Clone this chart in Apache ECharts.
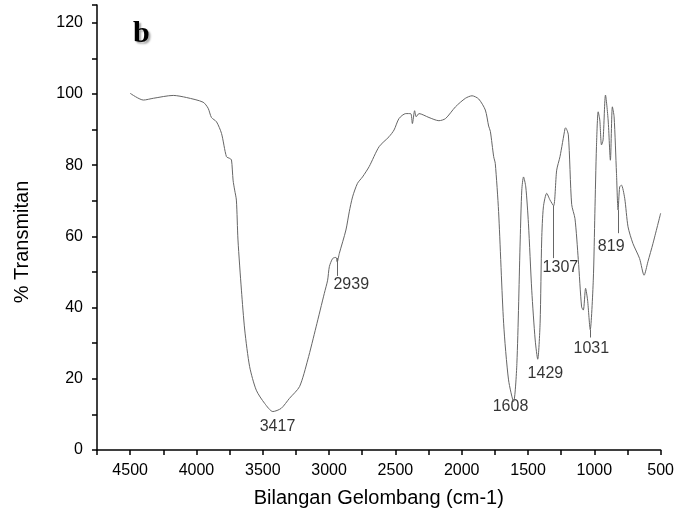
<!DOCTYPE html>
<html>
<head>
<meta charset="utf-8">
<script src="https://cdn.jsdelivr.net/npm/echarts@6/dist/echarts.min.js"></script>
<style>
  html, body { margin: 0; padding: 0; background: #fff; }
  #chart { width: 677px; height: 519px; }
</style>
</head>
<body>
<div id="chart"></div>
<script>
// spectrum, high to low wavenumber
const wavenumbers = [
  4500, 4400, 4325, 4175, 4074, 3950, 3912, 3887, 3849, 3811, 3774, 3749, 3736, 3724, 3712, 3699,
  3687, 3661, 3636, 3599, 3549, 3486, 3424, 3361, 3299, 3223, 3161, 3098, 3036, 3011, 2998, 2973,
  2948, 2939, 2923, 2873, 2848, 2823, 2786, 2748, 2698, 2623, 2548, 2510, 2473, 2422, 2385, 2372,
  2355, 2343, 2322, 2247, 2172, 2122, 2047, 1972, 1922, 1872, 1822, 1797, 1784, 1759, 1747, 1722,
  1684, 1647, 1609, 1584, 1559, 1547, 1534, 1517, 1497, 1472, 1446, 1427, 1409, 1397, 1384, 1359,
  1334, 1307, 1284, 1259, 1221, 1217, 1196, 1171, 1146, 1121, 1096, 1083, 1066, 1051, 1031, 1008,
  996, 984, 971, 959, 946, 934, 916, 896, 879, 864, 851, 833, 821, 809, 796, 771,
  746, 709, 659, 625, 596, 558, 500
];
const transmittance = [
  100.2, 98.3, 98.8, 99.6, 99.0, 97.7, 96.0, 93.4, 92.2, 88.9, 82.4, 81.9, 81.5, 75.8, 73.0, 70.2,
  59.0, 44.9, 33.7, 23.4, 16.8, 13.1, 10.8, 11.7, 14.5, 17.8, 25.3, 34.6, 44.0, 47.7, 51.5, 53.8,
  54.1, 52.8, 55.2, 61.8, 66.9, 71.1, 74.9, 76.7, 79.6, 85.2, 88.0, 89.9, 93.1, 94.5, 94.5, 91.7,
  95.3, 93.6, 94.5, 93.4, 92.5, 93.1, 96.4, 98.8, 99.5, 98.6, 95.5, 91.0, 89.5, 82.4, 80.5, 67.0,
  35.6, 19.7, 13.6, 24.3, 59.0, 73.0, 76.7, 73.9, 63.7, 44.9, 30.9, 25.5, 35.6, 59.0, 68.3, 72.1,
  70.2, 68.6, 78.6, 82.4, 90.3, 90.5, 88.5, 69.0, 65.0, 53.5, 40.2, 39.3, 45.4, 42.1, 33.8, 47.7,
  66.5, 85.2, 95.0, 92.7, 85.7, 87.1, 99.7, 92.7, 81.4, 96.4, 93.6, 77.7, 67.4, 73.9, 74.4, 70.7,
  62.7, 58.0, 53.8, 49.1, 52.9, 58.0, 66.5
];

// peak labels: text, and where the text sits (data units)
const peakNames = ['3417', '2939', '1608', '1429', '1307', '1031', '819'];
const peakLabelX = [3389, 2833, 1632, 1369, 1256, 1023, 873];
const peakLabelY = [6.5, 46.6, 12.1, 21.6, 51.1, 28.6, 57.0];

// leader lines under some peaks: wavenumber, top, bottom
const leaderX = [2939, 1307, 1031, 819];
const leaderTop = [53.9, 68.6, 33.8, 67.4];
const leaderBottom = [48.9, 53.9, 31.6, 60.9];

const xTicks = [500, 1000, 1500, 2000, 2500, 3000, 3500, 4000, 4500];
const yTicks = [0, 20, 40, 60, 80, 100, 120];

const FONT = '"Liberation Sans", Arial, sans-serif';

const chart = echarts.init(document.getElementById('chart'), null, { renderer: 'canvas' });

const spectrum = wavenumbers.map(function(w, i) { return [w, transmittance[i]]; });
const labels = peakNames.map(function(n, i) {
  return { name: n, value: [peakLabelX[i], peakLabelY[i]] };
});
const leaders = leaderX.map(function(x, i) {
  return [{ coord: [x, leaderTop[i]] }, { coord: [x, leaderBottom[i]] }];
});

chart.setOption({
  animation: false,
  backgroundColor: '#fff',
  grid: { left: 97, right: 14, top: 5, bottom: 69 },
  xAxis: {
    type: 'value',
    inverse: true,
    min: 500,
    max: 4750,
    interval: 250,
    name: 'Bilangan Gelombang (cm-1)',
    nameLocation: 'middle',
    nameGap: 38,
    nameTextStyle: { fontFamily: FONT, fontSize: 20, color: '#000' },
    axisLine: { show: true, onZero: false, lineStyle: { color: '#000', width: 1.5 } },
    axisTick: { show: true, inside: false, length: 5, lineStyle: { color: '#000', width: 1.5 } },
    axisLabel: {
      margin: 13,
      fontFamily: FONT,
      fontSize: 16,
      color: '#000',
      formatter: function(v) { return xTicks.indexOf(v) >= 0 ? String(v) : ''; }
    },
    splitLine: { show: false }
  },
  yAxis: {
    type: 'value',
    min: 0,
    max: 125,
    interval: 10,
    axisLine: { show: true, lineStyle: { color: '#000', width: 1.5 } },
    axisTick: { show: true, inside: false, length: 5, lineStyle: { color: '#000', width: 1.5 } },
    axisLabel: {
      margin: 14,
      fontFamily: FONT,
      fontSize: 16,
      color: '#000',
      formatter: function(v) { return yTicks.indexOf(v) >= 0 ? String(v) : ''; }
    },
    splitLine: { show: false }
  },
  graphic: [
    {
      type: 'text',
      left: 133,
      top: 19,
      style: {
        text: 'b',
        font: 'bold 30px "Liberation Serif", "Times New Roman", serif',
        fill: '#000',
        textShadowColor: 'rgba(0,0,0,0.35)',
        textShadowOffsetX: 2,
        textShadowOffsetY: 2,
        textShadowBlur: 2
      }
    },
    {
      type: 'text',
      x: 22,
      y: 242,
      rotation: Math.PI / 2,
      style: {
        text: '% Transmitan',
        font: '20px ' + FONT,
        fill: '#000',
        align: 'center',
        verticalAlign: 'middle'
      }
    }
  ],
  series: [
    {
      type: 'line',
      data: spectrum,
      showSymbol: false,
      symbol: 'none',
      smooth: 0.25,
      lineStyle: { color: '#666', width: 1 },
      markLine: {
        silent: true,
        symbol: 'none',
        label: { show: false },
        lineStyle: { color: '#666', width: 1, type: 'solid' },
        data: leaders
      }
    },
    {
      type: 'scatter',
      data: labels,
      symbolSize: 0,
      silent: true,
      label: {
        show: true,
        position: 'inside',
        formatter: '{b}',
        fontFamily: FONT,
        fontSize: 16,
        color: '#000'
      }
    }
  ]
});
</script>
</body>
</html>
